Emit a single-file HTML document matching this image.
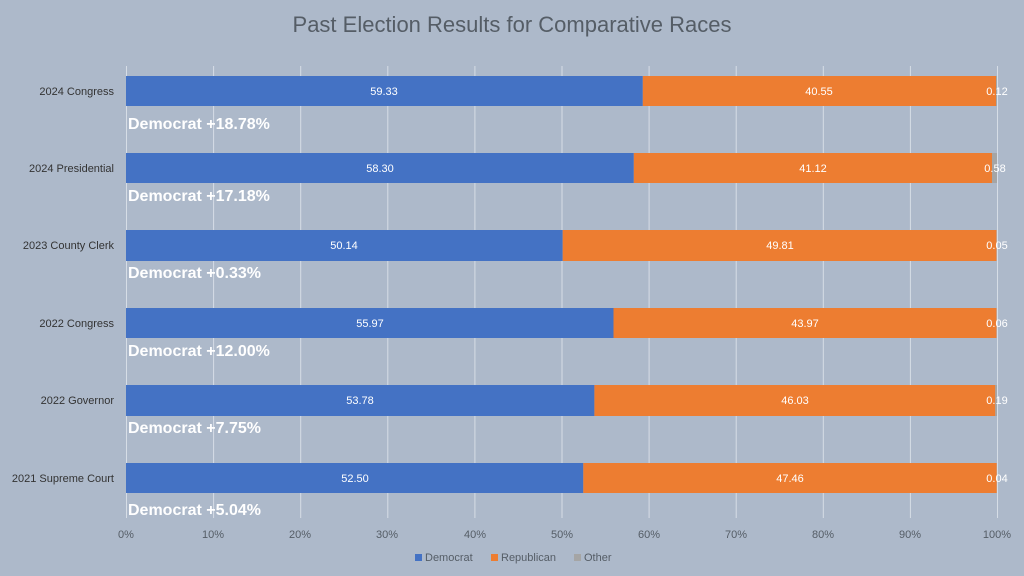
<!DOCTYPE html>
<html><head><meta charset="utf-8"><style>
body{margin:0;background:#adb9ca;}
svg{display:block;font-family:"Liberation Sans",sans-serif;}
</style></head><body>
<svg width="1024" height="576" xmlns="http://www.w3.org/2000/svg">
<rect width="1024" height="576" fill="#adb9ca"/>
<text x="512" y="32" text-anchor="middle" font-size="22" fill="#555d66">Past Election Results for Comparative Races</text>
<g stroke="#d6dde6" stroke-width="1">
<line x1="126.5" y1="66" x2="126.5" y2="518"/><line x1="213.6" y1="66" x2="213.6" y2="518"/><line x1="300.7" y1="66" x2="300.7" y2="518"/><line x1="387.8" y1="66" x2="387.8" y2="518"/><line x1="474.9" y1="66" x2="474.9" y2="518"/><line x1="562" y1="66" x2="562" y2="518"/><line x1="649.1" y1="66" x2="649.1" y2="518"/><line x1="736.2" y1="66" x2="736.2" y2="518"/><line x1="823.3" y1="66" x2="823.3" y2="518"/><line x1="910.4" y1="66" x2="910.4" y2="518"/><line x1="997.5" y1="66" x2="997.5" y2="518"/>
</g>
<g font-size="11" fill="#555d66" text-anchor="middle">
<text x="126" y="538">0%</text><text x="213" y="538">10%</text><text x="300" y="538">20%</text><text x="387" y="538">30%</text><text x="475" y="538">40%</text><text x="562" y="538">50%</text><text x="649" y="538">60%</text><text x="736" y="538">70%</text><text x="823" y="538">80%</text><text x="910" y="538">90%</text><text x="997" y="538">100%</text>
</g>
<g id="rows" font-size="11">
<!-- row: top, dem, rep, oth -->
<g transform="translate(0,76)">
<rect x="126" y="0" width="516.8" height="30" fill="#4472c4"/><rect x="642.8" y="0" width="353.2" height="30" fill="#ed7d31"/><rect x="996" y="0" width="1" height="30" fill="#a5a5a5"/>
<text x="384" y="19" fill="#fff" text-anchor="middle">59.33</text><text x="819" y="19" fill="#fff" text-anchor="middle">40.55</text><text x="997" y="19" fill="#fff" text-anchor="middle">0.12</text>
<text x="114" y="19" fill="#333" text-anchor="end">2024 Congress</text>
<text x="128" y="53" fill="#fff" font-size="16" font-weight="bold">Democrat +18.78%</text></g>
<g transform="translate(0,153)">
<rect x="126" y="0" width="507.8" height="30" fill="#4472c4"/><rect x="633.8" y="0" width="358.2" height="30" fill="#ed7d31"/><rect x="992" y="0" width="5" height="30" fill="#a5a5a5"/>
<text x="380" y="19" fill="#fff" text-anchor="middle">58.30</text><text x="813" y="19" fill="#fff" text-anchor="middle">41.12</text><text x="995" y="19" fill="#fff" text-anchor="middle">0.58</text>
<text x="114" y="19" fill="#333" text-anchor="end">2024 Presidential</text>
<text x="128" y="48" fill="#fff" font-size="16" font-weight="bold">Democrat +17.18%</text></g>
<g transform="translate(0,230)">
<rect x="126" y="0" width="436.7" height="31" fill="#4472c4"/><rect x="562.7" y="0" width="433.8" height="31" fill="#ed7d31"/>
<text x="344" y="19" fill="#fff" text-anchor="middle">50.14</text><text x="780" y="19" fill="#fff" text-anchor="middle">49.81</text><text x="997" y="19" fill="#fff" text-anchor="middle">0.05</text>
<text x="114" y="19" fill="#333" text-anchor="end">2023 County Clerk</text>
<text x="128" y="48" fill="#fff" font-size="16" font-weight="bold">Democrat +0.33%</text></g>
<g transform="translate(0,308)">
<rect x="126" y="0" width="487.5" height="30" fill="#4472c4"/><rect x="613.5" y="0" width="383" height="30" fill="#ed7d31"/>
<text x="370" y="19" fill="#fff" text-anchor="middle">55.97</text><text x="805" y="19" fill="#fff" text-anchor="middle">43.97</text><text x="997" y="19" fill="#fff" text-anchor="middle">0.06</text>
<text x="114" y="19" fill="#333" text-anchor="end">2022 Congress</text>
<text x="128" y="48" fill="#fff" font-size="16" font-weight="bold">Democrat +12.00%</text></g>
<g transform="translate(0,385)">
<rect x="126" y="0" width="468.4" height="31" fill="#4472c4"/><rect x="594.4" y="0" width="400.9" height="31" fill="#ed7d31"/><rect x="995.3" y="0" width="1.7" height="31" fill="#a5a5a5"/>
<text x="360" y="19" fill="#fff" text-anchor="middle">53.78</text><text x="795" y="19" fill="#fff" text-anchor="middle">46.03</text><text x="997" y="19" fill="#fff" text-anchor="middle">0.19</text>
<text x="114" y="19" fill="#333" text-anchor="end">2022 Governor</text>
<text x="128" y="48" fill="#fff" font-size="16" font-weight="bold">Democrat +7.75%</text></g>
<g transform="translate(0,463)">
<rect x="126" y="0" width="457.3" height="30" fill="#4472c4"/><rect x="583.3" y="0" width="413.4" height="30" fill="#ed7d31"/>
<text x="355" y="19" fill="#fff" text-anchor="middle">52.50</text><text x="790" y="19" fill="#fff" text-anchor="middle">47.46</text><text x="997" y="19" fill="#fff" text-anchor="middle">0.04</text>
<text x="114" y="19" fill="#333" text-anchor="end">2021 Supreme Court</text>
<text x="128" y="52" fill="#fff" font-size="16" font-weight="bold">Democrat +5.04%</text></g>
</g>
<g font-size="11" fill="#555d66">
<rect x="415" y="554" width="7" height="7" fill="#4472c4"/><text x="425" y="561">Democrat</text>
<rect x="491" y="554" width="7" height="7" fill="#ed7d31"/><text x="501" y="561">Republican</text>
<rect x="574" y="554" width="7" height="7" fill="#a5a5a5"/><text x="584" y="561">Other</text>
</g>
</svg>
</body></html>
